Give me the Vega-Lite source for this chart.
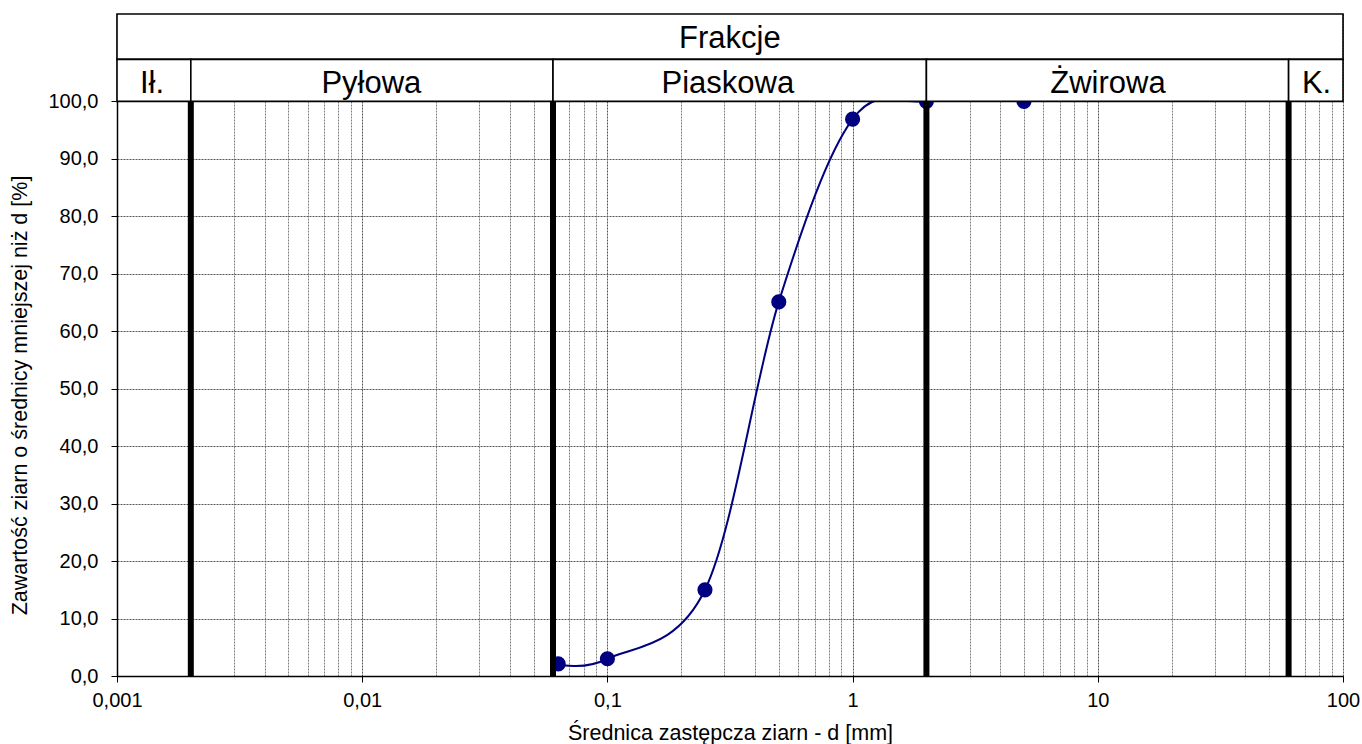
{
  "$schema": "https://vega.github.io/schema/vega-lite/v6.json",
  "width": 1226,
  "height": 662,
  "autosize": {"type": "none"},
  "padding": {"left": 117, "top": 14, "right": 19, "bottom": 68},
  "background": "white",
  "config": {
    "font": "Liberation Sans",
    "view": {"stroke": null}
  },
  "datasets": {
    "curve": [
      {"d": 0.063, "p": 2.1},
      {"d": 0.1, "p": 3.0},
      {"d": 0.25, "p": 15.0},
      {"d": 0.5, "p": 65.1},
      {"d": 1, "p": 96.9},
      {"d": 2, "p": 100},
      {"d": 5, "p": 100}
    ],
    "bounds": [
      {"d": 0.002},
      {"d": 0.06},
      {"d": 2},
      {"d": 60}
    ],
    "cells": [
      {"name": "Frakcje", "x1": 0.001, "x2": 100, "y1": 107.3, "y2": 115.2, "xm": 0.316, "ym": 110.9},
      {"name": "Ił.", "x1": 0.001, "x2": 0.002, "y1": 100, "y2": 107.3, "xm": 0.00139, "ym": 103.0},
      {"name": "Pyłowa", "x1": 0.002, "x2": 0.06, "y1": 100, "y2": 107.3, "xm": 0.0109, "ym": 103.0},
      {"name": "Piaskowa", "x1": 0.06, "x2": 2, "y1": 100, "y2": 107.3, "xm": 0.31, "ym": 103.0},
      {"name": "Żwirowa", "x1": 2, "x2": 60, "y1": 100, "y2": 107.3, "xm": 11.0, "ym": 103.0},
      {"name": "K.", "x1": 60, "x2": 100, "y1": 100, "y2": 107.3, "xm": 78, "ym": 103.0}
    ]
  },
  "layer": [
    {
      "data": {"name": "curve"},
      "mark": {"type": "line", "interpolate": "cardinal", "color": "#000080", "strokeWidth": 2},
      "encoding": {
        "x": {
          "field": "d",
          "type": "quantitative",
          "scale": {"type": "log", "domain": [0.001, 100], "nice": false},
          "axis": {
            "title": "Średnica zastępcza ziarn - d [mm]",
            "titleFontSize": 21.5,
            "titleFontWeight": "normal",
            "titleColor": "black",
            "titlePadding": 12,
            "values": [0.001, 0.002, 0.003, 0.004, 0.005, 0.006, 0.007, 0.008, 0.009,
                       0.01, 0.02, 0.03, 0.04, 0.05, 0.06, 0.07, 0.08, 0.09,
                       0.1, 0.2, 0.3, 0.4, 0.5, 0.6, 0.7, 0.8, 0.9,
                       1, 2, 3, 4, 5, 6, 7, 8, 9,
                       10, 20, 30, 40, 50, 60, 70, 80, 90, 100],
            "labelExpr": "abs(log(datum.value)/LN10 - round(log(datum.value)/LN10)) < 0.000001 ? replace(toString(datum.value), '.', ',') : ''",
            "labelOverlap": false,
            "labelFlush": false,
            "labelFontSize": 20,
            "labelColor": "black",
            "labelPadding": 8,
            "tickSize": 6,
            "tickColor": "black",
            "tickOpacity": {"condition": {"test": "abs(log(datum.value)/LN10 - round(log(datum.value)/LN10)) < 0.000001", "value": 1}, "value": 0},
            "domainColor": "black",
            "domainWidth": 1.5,
            "grid": true,
            "gridDash": [2, 1],
            "gridWidth": 1,
            "gridColor": {"condition": {"test": "abs(log(datum.value)/LN10 - round(log(datum.value)/LN10)) < 0.000001", "value": "#555555"}, "value": "#808080"},
            "gridOpacity": 1
          }
        },
        "y": {
          "field": "p",
          "type": "quantitative",
          "scale": {"domain": [0, 115.2], "nice": false, "zero": false},
          "axis": {
            "title": "Zawartość ziarn o średnicy mniejszej niż d [%]",
            "titleFontSize": 21.5,
            "titleFontWeight": "normal",
            "titleColor": "black",
            "titleX": -97,
            "titleY": 381,
            "titleAngle": 270,
            "titleAlign": "center",
            "titleBaseline": "middle",
            "values": [0, 10, 20, 30, 40, 50, 60, 70, 80, 90, 100],
            "labelExpr": "replace(format(datum.value, '.1f'), '.', ',')",
            "labelFontSize": 20,
            "labelColor": "black",
            "labelPadding": 13,
            "tickSize": 6,
            "tickColor": "black",
            "domainColor": "black",
            "domainWidth": 1.5,
            "grid": true,
            "gridDash": [2, 1],
            "gridWidth": 1,
            "gridColor": "#555555"
          }
        }
      }
    },
    {
      "data": {"name": "curve"},
      "mark": {"type": "point", "filled": true, "shape": "circle", "size": 230, "color": "#000080", "opacity": 1},
      "encoding": {
        "x": {"field": "d", "type": "quantitative"},
        "y": {"field": "p", "type": "quantitative"}
      }
    },
    {
      "data": {"name": "bounds"},
      "mark": {"type": "rule", "color": "black", "strokeWidth": 6},
      "encoding": {
        "x": {"field": "d", "type": "quantitative"},
        "y": {"datum": 0},
        "y2": {"datum": 100}
      }
    },
    {
      "data": {"name": "cells"},
      "mark": {"type": "rect", "fill": "white", "stroke": "black", "strokeWidth": 1.6},
      "encoding": {
        "x": {"field": "x1", "type": "quantitative"},
        "x2": {"field": "x2"},
        "y": {"field": "y1", "type": "quantitative"},
        "y2": {"field": "y2"}
      }
    },
    {
      "data": {"name": "cells"},
      "mark": {"type": "text", "fontSize": 31, "color": "black", "align": "center", "baseline": "middle"},
      "encoding": {
        "x": {"field": "xm", "type": "quantitative"},
        "y": {"field": "ym", "type": "quantitative"},
        "text": {"field": "name"}
      }
    }
  ]
}
